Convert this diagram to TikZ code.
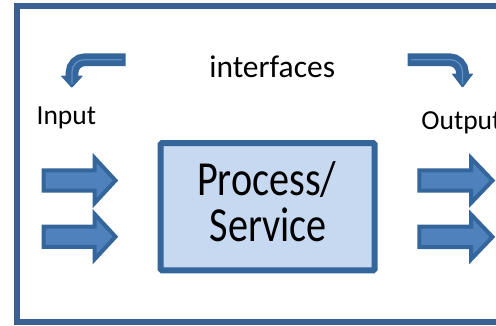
\documentclass[tikz,border=0pt]{standalone}
\usepackage{fontspec}
\setmainfont{Carlito}
\newfontfamily\condensed[FakeStretch=0.82]{Carlito}

\definecolor{frameblue}{HTML}{3A6192}
\definecolor{edgeblue}{HTML}{34659B}
\definecolor{fillblue}{HTML}{4F81BD}
\definecolor{boxfill}{HTML}{C6D9F1}
\definecolor{glint}{HTML}{5E8FC9}

\tikzset{
  frameline/.style={draw=frameblue, line width=6pt},
  procbox/.style={draw=edgeblue, fill=boxfill, line width=6pt, rounded corners=1.5pt,
                  inner sep=0pt},
  blockarr/.style={draw=edgeblue, fill=fillblue, line width=4pt, line join=miter},
  bentarr/.style={draw=edgeblue, line width=12.7pt, rounded corners=13pt},
  benthead/.style={fill=edgeblue, rounded corners=1pt},
  glintline/.style={draw=glint, line width=1.3pt, rounded corners=12pt},
  label/.style={inner sep=0pt, text=black},
}

% block arrow: left x, centre y, head-base x, tip x
\newcommand\fatarrow[4]{%
  \draw[blockarr] (#1,#2-10.2) -- (#3,#2-10.2) -- (#3,#2-22.5) -- (#4,#2)
    -- (#3,#2+22.5) -- (#3,#2+10.2) -- (#1,#2+10.2) -- cycle;}

\begin{document}
\begin{tikzpicture}[x=1pt,y=-1pt]
\useasboundingbox (0,0) rectangle (496,325);
\clip (0,0) rectangle (496,325);

% outer frame (runs off the right edge)
\draw[frameline] (17,6.3) rectangle (540,321.5);

% process box
\node[procbox, minimum width=214.2pt, minimum height=127.3pt] (proc) at (267.6,206.65) {};
\node[label, anchor=base, font=\condensed\fontsize{49}{49}\selectfont] (proctop) at (266.7,195) {Process/};
\node[label, anchor=base, font=\condensed\fontsize{49}{49}\selectfont] (procbot) at (268.3,241.7) {Service};

% headings
\node[label, anchor=base, font=\fontsize{31.5}{31.5}\selectfont] (iface) at (272.2,77.3) {interfaces};
\node[label, anchor=base west, font=\fontsize{27.5}{27.5}\selectfont] (inlab) at (36.4,124) {Input};
\node[label, anchor=base west, font=\fontsize{27.5}{27.5}\selectfont] (outlab) at (421.2,129.3) {Output};

% input and output arrows
\fatarrow{43.7}{180.5}{94.7}{115.5}
\fatarrow{43.7}{236.7}{94.7}{115.5}
\fatarrow{419.3}{180.5}{471}{492.5}
\fatarrow{419.3}{236.9}{471}{492.5}

% bent arrow on the left, pointing down
\coordinate (lstart) at (125.5,59.7);
\coordinate (lbend) at (72,59.7);
\coordinate (lend) at (72,77);
\draw[bentarr] (lstart) -- (lbend) -- (lend);
\fill[benthead] (60.5,75.5) -- (83.3,75.5) -- (71.8,88) -- cycle;
\draw[glintline] (122,59.7) -- (lbend) -- (72,84);

% bent arrow on the right, pointing down
\coordinate (rstart) at (407.5,59.7);
\coordinate (rbend) at (462.5,59.7);
\coordinate (rend) at (462.5,75);
\draw[bentarr] (rstart) -- (rbend) -- (rend);
\fill[benthead] (451.5,73.5) -- (473.5,73.5) -- (462.6,88) -- cycle;
\draw[glintline] (411,59.7) -- (rbend) -- (462.5,84);
\end{tikzpicture}
\end{document}
